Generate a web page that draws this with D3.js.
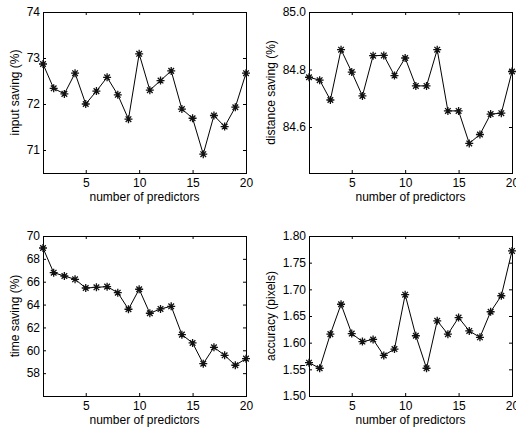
<!DOCTYPE html>
<html lang="en">
<head>
    <meta charset="UTF-8">
    <title>Predictors comparison</title>
    <script src="https://d3js.org/d3.v7.min.js"></script>
    <style>
        body {
            margin: 0;
            padding: 0;
            background: #ffffff;
            overflow: hidden;
        }
        svg text {
            font-family: "Liberation Sans", Arial, sans-serif;
            fill: #000;
        }
    </style>
</head>
<body>
    <svg id="chart"></svg>

    <script>
        // Data
        const predictors = [1, 2, 3, 4, 5, 6, 7, 8, 9, 10, 11, 12, 13, 14, 15, 16, 17, 18, 19, 20];
        const inputSaving = [72.87, 72.34, 72.22, 72.67, 72.00, 72.28, 72.58, 72.20, 71.67, 73.09,
                             72.30, 72.51, 72.72, 71.89, 71.69, 70.91, 71.75, 71.51, 71.93, 72.67];
        const distanceSaving = [84.773, 84.763, 84.694, 84.869, 84.791, 84.708, 84.848, 84.849, 84.779, 84.840,
                                84.743, 84.743, 84.869, 84.656, 84.656, 84.543, 84.574, 84.645, 84.648, 84.793];
        const timeSaving = [68.95, 66.79, 66.50, 66.21, 65.45, 65.51, 65.57, 65.04, 63.59, 65.34,
                            63.24, 63.62, 63.85, 61.37, 60.64, 58.83, 60.26, 59.56, 58.69, 59.27];
        const accuracy = [1.5625, 1.552, 1.616, 1.672, 1.617, 1.602, 1.606, 1.576, 1.588, 1.690,
                          1.613, 1.552, 1.641, 1.616, 1.647, 1.622, 1.610, 1.658, 1.688, 1.772];

        const xTicks = [5, 10, 15, 20];
        const inputTicks = [71, 72, 73, 74];
        const distanceTicks = [84.6, 84.8, 85.0];
        const timeTicks = [58, 60, 62, 64, 66, 68, 70];
        const accuracyTicks = [1.50, 1.55, 1.60, 1.65, 1.70, 1.75, 1.80];

        const width = 516;
        const height = 427;

        const svg = d3.select("#chart")
            .attr("width", width)
            .attr("height", height);

        // Panel layout (pixel boxes of each axes)
        const panels = [
            { values: inputSaving, label: "input saving (%)", domain: [70.5, 74], ticks: inputTicks, fmt: d3.format("d"),
              x0: 43, x1: 246, y0: 12, y1: 173, labelX: 15 },
            { values: distanceSaving, label: "distance saving (%)", domain: [84.44, 85.0], ticks: distanceTicks, fmt: d3.format(".1f"),
              x0: 309, x1: 512, y0: 12, y1: 173, labelX: 271 },
            { values: timeSaving, label: "time saving (%)", domain: [56, 70], ticks: timeTicks, fmt: d3.format("d"),
              x0: 43, x1: 246, y0: 236, y1: 396, labelX: 15 },
            { values: accuracy, label: "accuracy (pixels)", domain: [1.5, 1.8], ticks: accuracyTicks, fmt: d3.format(".2f"),
              x0: 309, x1: 512, y0: 236, y1: 396, labelX: 271 }
        ];

        // Asterisk marker like matlab's '*'
        const star = "M-4,0H4M0,-4V4M-2.8,-2.8L2.8,2.8M-2.8,2.8L2.8,-2.8";

        panels.forEach(p => {
            const x = d3.scaleLinear().domain([1, 20]).range([p.x0, p.x1]);
            const y = d3.scaleLinear().domain(p.domain).range([p.y1, p.y0]);
            const g = svg.append("g");

            // Axes, ticks pointing inward and mirrored on top/right
            const styleAxis = sel => {
                sel.select(".domain").remove();
                sel.selectAll("line").attr("stroke", "#000");
                sel.selectAll("text")
                    .style("font-size", "12px")
                    .style("font-family", "'Liberation Sans', Arial, sans-serif");
            };

            g.append("g")
                .attr("transform", `translate(0,${p.y1})`)
                .call(d3.axisBottom(x).tickValues(xTicks).tickSizeInner(-3).tickSizeOuter(0).tickPadding(5))
                .call(styleAxis);
            g.append("g")
                .attr("transform", `translate(0,${p.y0})`)
                .call(d3.axisTop(x).tickValues(xTicks).tickSizeInner(-3).tickSizeOuter(0).tickFormat(""))
                .call(styleAxis);
            g.append("g")
                .attr("transform", `translate(${p.x0},0)`)
                .call(d3.axisLeft(y).tickValues(p.ticks).tickFormat(p.fmt).tickSizeInner(-3).tickSizeOuter(0).tickPadding(3))
                .call(styleAxis);
            g.append("g")
                .attr("transform", `translate(${p.x1},0)`)
                .call(d3.axisRight(y).tickValues(p.ticks).tickSizeInner(-3).tickSizeOuter(0).tickFormat(""))
                .call(styleAxis);

            // Box
            g.append("rect")
                .attr("x", p.x0 + 0.5)
                .attr("y", p.y0 + 0.5)
                .attr("width", p.x1 - p.x0)
                .attr("height", p.y1 - p.y0)
                .attr("fill", "none")
                .attr("stroke", "#000")
                .attr("stroke-width", 1);

            // Line
            const line = d3.line()
                .x((d, i) => x(predictors[i]))
                .y(d => y(d));

            g.append("path")
                .datum(p.values)
                .attr("d", line)
                .attr("fill", "none")
                .attr("stroke", "#000")
                .attr("stroke-width", 1);

            // Markers
            g.selectAll(".marker")
                .data(p.values)
                .enter()
                .append("path")
                .attr("class", "marker")
                .attr("transform", (d, i) => `translate(${x(predictors[i])},${y(d)})`)
                .attr("d", star)
                .attr("fill", "none")
                .attr("stroke", "#111")
                .attr("stroke-width", 1.3);

            // Axis titles
            g.append("text")
                .attr("x", (p.x0 + p.x1) / 2)
                .attr("y", p.y1 + 28)
                .attr("text-anchor", "middle")
                .style("font-size", "12px")
                .text("number of predictors");

            g.append("text")
                .attr("transform", `translate(${p.labelX},${(p.y0 + p.y1) / 2}) rotate(-90)`)
                .attr("dy", "0.35em")
                .attr("text-anchor", "middle")
                .style("font-size", "12px")
                .text(p.label);
        });
    </script>
</body>
</html>
